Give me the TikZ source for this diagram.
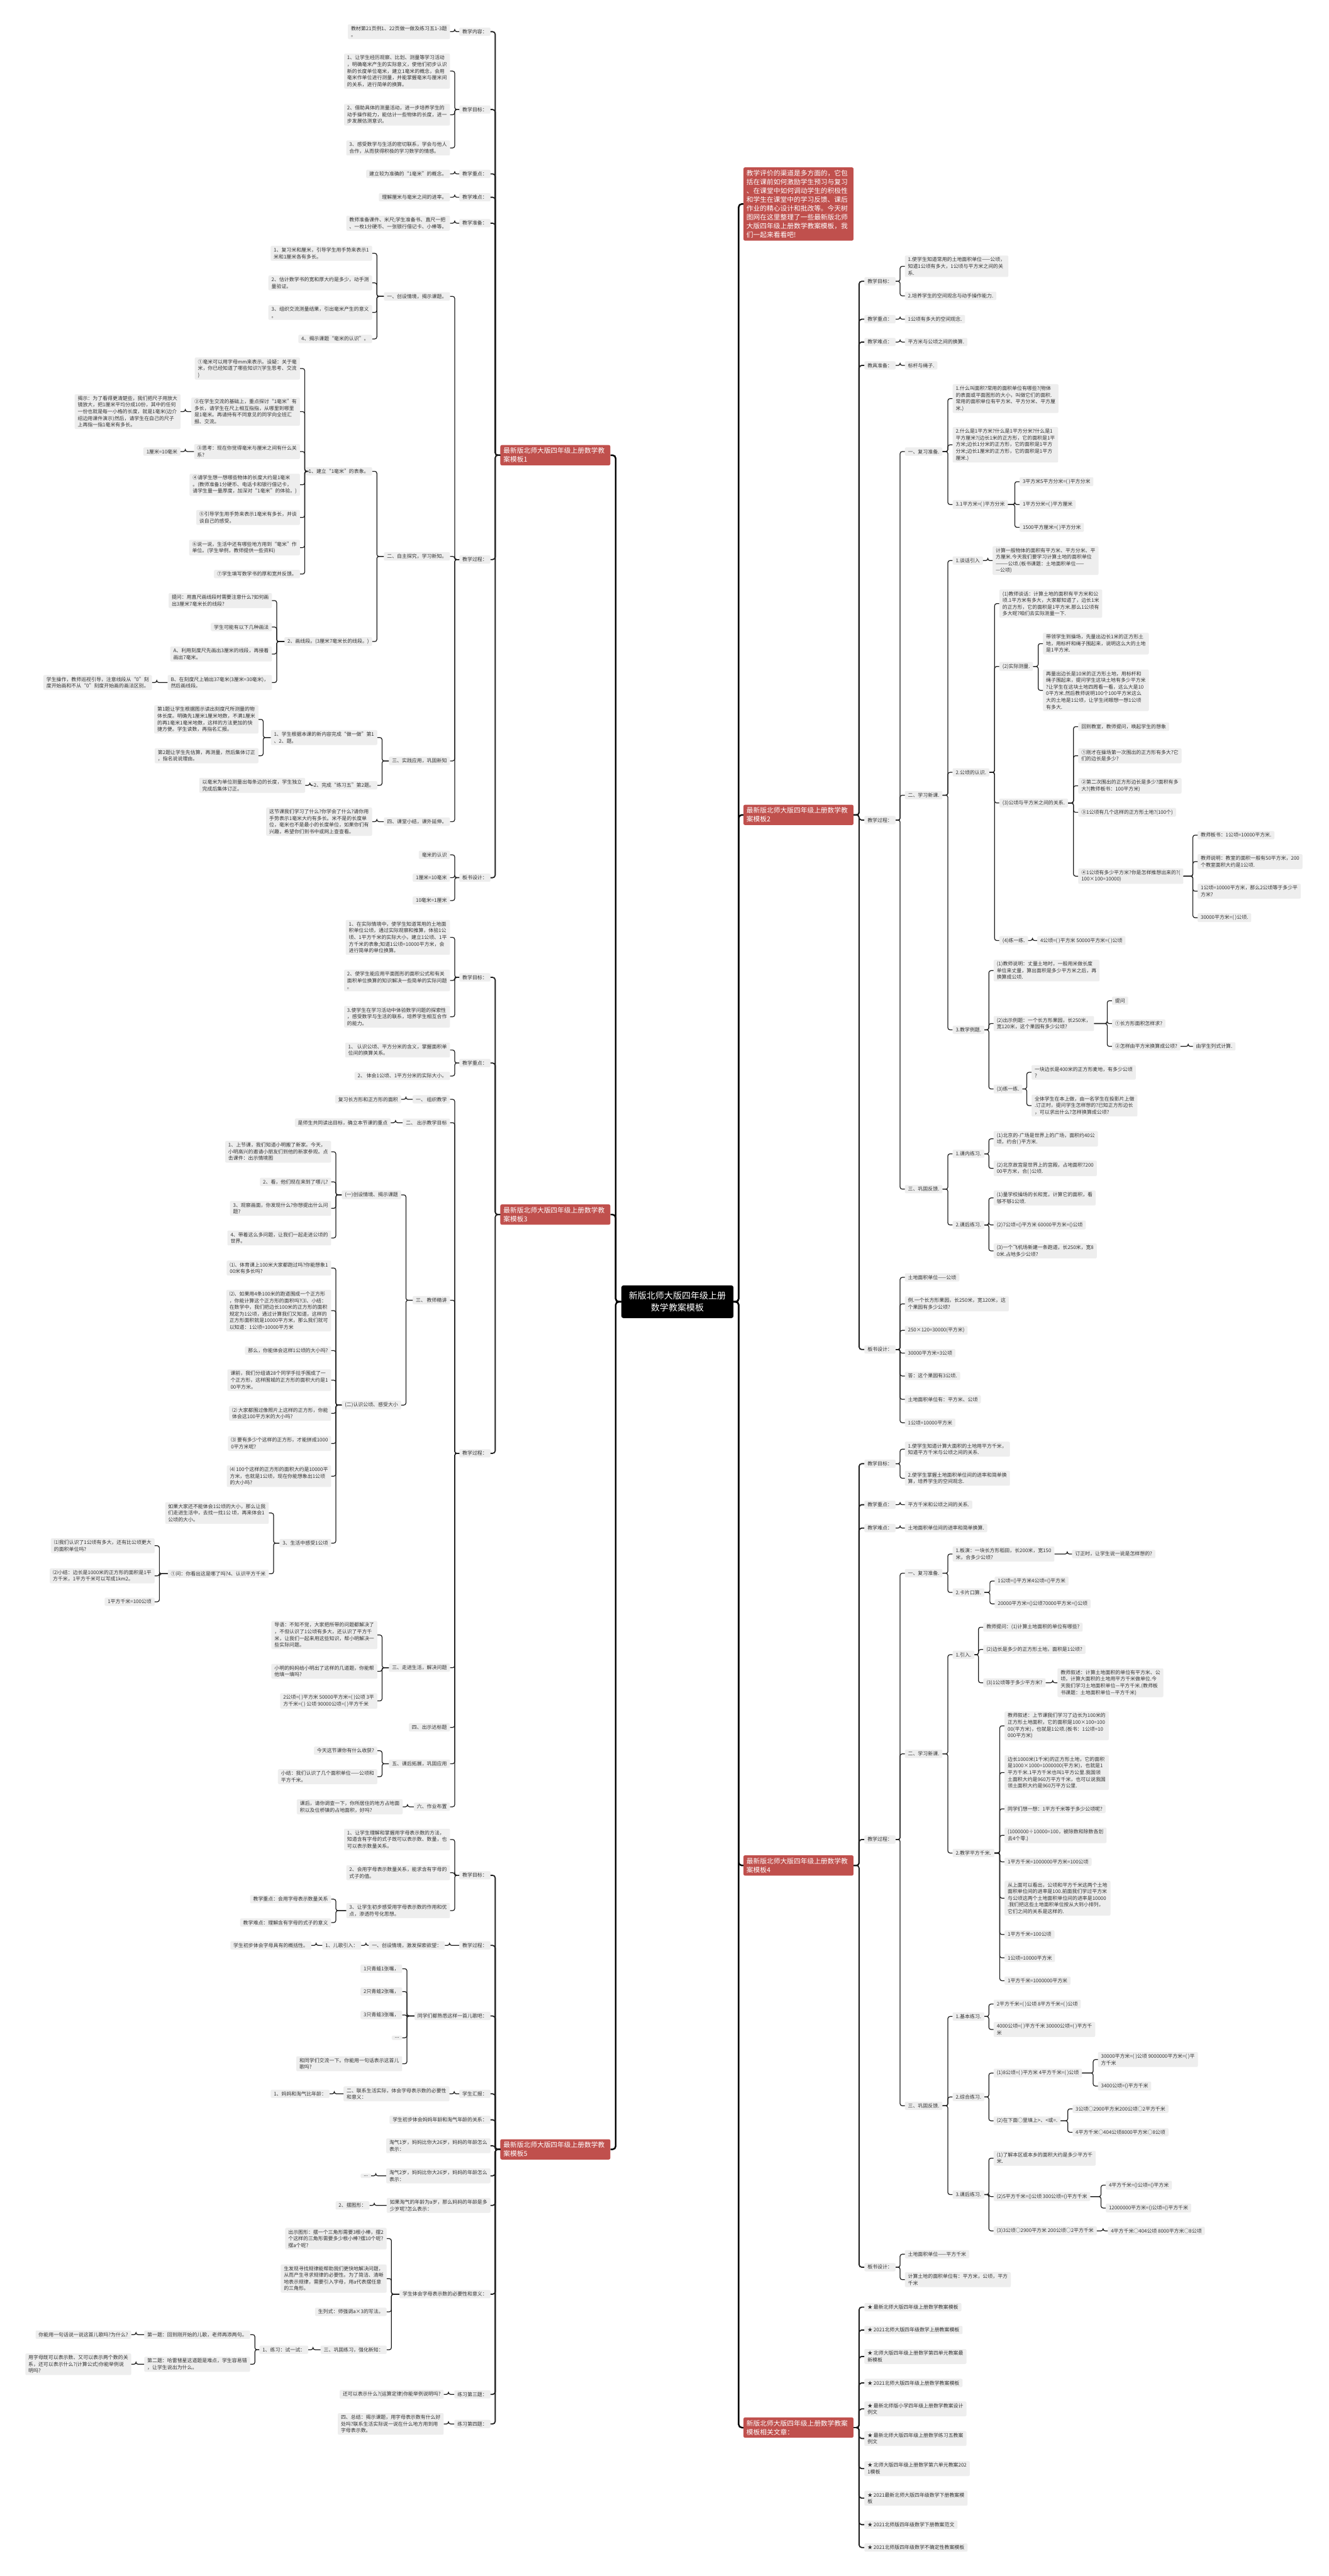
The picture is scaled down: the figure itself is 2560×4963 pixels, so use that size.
\documentclass[tikz,border=0pt]{standalone}
\usepackage{fontspec}
\setmainfont{Noto Sans CJK SC}
\definecolor{boxg}{RGB}{238,238,238}
\definecolor{txt}{RGB}{51,51,51}
\definecolor{redc}{RGB}{192,80,77}
\definecolor{lc}{RGB}{30,30,30}
\tikzset{
 t/.style={fill=boxg, rounded corners=2.5pt, inner xsep=6pt, inner ysep=3.5pt, align=left, font=\fontsize{9.6}{12.8}\selectfont, text=txt},
 L/.style={t, anchor=east}, R/.style={t, anchor=west},
 redbox/.style={fill=redc, text=white, rounded corners=3pt, inner xsep=6pt, inner ysep=5pt, align=left, font=\fontsize{13}{17}\selectfont},
 ln/.style={draw=lc, line width=1.5pt, rounded corners=4pt},
 lnb/.style={draw=lc, line width=2.2pt, rounded corners=5pt},
 lnm/.style={draw=black, line width=3pt, rounded corners=6pt},
}
\newcommand\NL[4]{\node[L] (#1) at (#2,#3) {#4};}
\newcommand\NR[4]{\node[R] (#1) at (#2,#3) {#4};}
\newcommand\CL[2]{\foreach \q in {#2}{\draw[ln] (#1.west) -| ([xshift=9pt]\q.east) -- (\q.east);}}
\newcommand\CR[2]{\foreach \q in {#2}{\draw[ln] (#1.east) -| ([xshift=-9pt]\q.west) -- (\q.west);}}
\newcommand\BL[2]{\foreach \q in {#2}{\draw[lnb] (#1.west) -| ([xshift=9pt]\q.east) -- (\q.east);}}
\newcommand\BR[2]{\foreach \q in {#2}{\draw[lnb] (#1.east) -| ([xshift=-10pt]\q.west) -- (\q.west);}}
\begin{document}
\begin{tikzpicture}[x=1pt,y=-1pt]
\fill[white] (0,0) rectangle (2560,4963);
\useasboundingbox (0,0) rectangle (2560,4963);
% ---------- center ----------
\node[fill=black, text=white, rounded corners=4pt, align=center, font=\fontsize{17}{23}\selectfont, minimum width=216pt, minimum height=63pt] (c) at (1305,2508) {新版北师大版四年级上册\\数学教案模板};
% ---------- red nodes ----------
\node[redbox, anchor=east, text width=200pt] (r1) at (1176,877) {最新版北师大版四年级上册数学教\\案模板1};
\node[redbox, anchor=east, text width=200pt] (r3) at (1176,2340) {最新版北师大版四年级上册数学教\\案模板3};
\node[redbox, anchor=east, text width=200pt] (r5) at (1176,4141) {最新版北师大版四年级上册数学教\\案模板5};
\node[redbox, anchor=west, text width=200pt] (r0) at (1432,393) {教学评价的渠道是多方面的，它包\\括在课前如何激励学生预习与复习\\、在课堂中如何调动学生的积极性\\和学生在课堂中的学习反馈、课后\\作业的精心设计和批改等。今天树\\图网在这里整理了一些最新版北师\\大版四年级上册数学教案模板，我\\们一起来看看吧!};
\node[redbox, anchor=west, text width=200pt] (r2) at (1432,1570) {最新版北师大版四年级上册数学教\\案模板2};
\node[redbox, anchor=west, text width=200pt] (r4) at (1432,3594) {最新版北师大版四年级上册数学教\\案模板4};
\node[redbox, anchor=west, text width=200pt] (r6) at (1432,4677) {新版北师大版四年级上册数学教案\\模板相关文章：};
\foreach \q in {r1,r3,r5}{\draw[lnm] (c.west) -| ([xshift=10pt]\q.east) -- (\q.east);}
\foreach \q in {r0,r2,r4,r6}{\draw[lnm] (c.east) -| ([xshift=-9pt]\q.west) -- (\q.west);}
% ================= LEFT: template 1 =================
\NL{a1}{945}{61}{教学内容：}
\NL{a2}{945}{211}{教学目标：}
\NL{a3}{945}{335}{教学重点：}
\NL{a4}{945}{380}{教学难点：}
\NL{a5}{945}{430}{教学准备：}
\NL{a6}{945}{1078}{教学过程：}
\NL{a7}{945}{1691}{板书设计：}
\BL{r1}{a1,a2,a3,a4,a5,a6,a7}
\NL{a1x}{867}{61}{教材第21页例1、22页做一做及练习五1-3题\\。}
\NL{a2a}{867}{137}{1、让学生经历观察、比划、测量等学习活动\\，明确毫米产生的实际意义，使他们初步认识\\新的长度单位毫米，建立1毫米的概念，会用\\毫米作单位进行测量，并能掌握毫米与厘米间\\的关系，进行简单的换算。}
\NL{a2b}{867}{221}{2、借助具体的测量活动，进一步培养学生的\\动手操作能力，能估计一些物体的长度，进一\\步发展估测意识。}
\NL{a2c}{867}{285}{3、感受数学与生活的密切联系，学会与他人\\合作，从而获得积极的学习数学的情感。}
\NL{a3x}{867}{335}{建立较为准确的“1毫米”的概念。}
\NL{a4x}{867}{380}{理解厘米与毫米之间的进率。}
\NL{a5x}{867}{430}{教师准备课件、米尺;学生准备书、直尺一把\\、一枚1分硬币、一张银行借记卡、小棒等。}
\NL{a6a}{867}{571}{一、创设情境，揭示课题。}
\NL{a6b}{867}{1072}{二、自主探究，学习新知。}
\NL{a6c}{867}{1466}{三、实践应用，巩固新知}
\NL{a6d}{867}{1583}{四、课堂小结，课外延伸。}
\NL{a7a}{867}{1647}{毫米的认识}
\NL{a7b}{867}{1691}{1厘米=10毫米}
\NL{a7c}{867}{1735}{10毫米=1厘米}
\CL{a1}{a1x}\CL{a2}{a2a,a2b,a2c}\CL{a3}{a3x}\CL{a4}{a4x}\CL{a5}{a5x}
\CL{a6}{a6a,a6b,a6c,a6d}\CL{a7}{a7a,a7b,a7c}
\NL{a6a1}{717}{488}{1、复习米和厘米，引导学生用手势来表示1\\米和1厘米各有多长。}
\NL{a6a2}{717}{545}{2、估计数学书的宽和厚大约是多少，动手测\\量验证。}
\NL{a6a3}{717}{602}{3、组织交流测量结果，引出毫米产生的意义\\。}
\NL{a6a4}{717}{653}{4、揭示课题“毫米的认识”。}
\CL{a6a}{a6a1,a6a2,a6a3,a6a4}
\NL{b0}{717}{908}{1、建立“1毫米”的表象。}
\NL{c0}{717}{1236}{2、画线段。(3厘米7毫米长的线段。)}
\CL{a6b}{b0,c0}
\NL{b1}{578}{710}{①毫米可以用字母mm来表示。设疑：关于毫\\米，你已经知道了哪些知识?(学生思考、交流\\)}
\NL{b2}{578}{793}{②在学生交流的基础上，重点探讨“1毫米”有\\多长，请学生在尺上相互指指，从哪里到哪里\\是1毫米。再请持有不同意见的同学向全班汇\\报、交流。}
\NL{b3}{578}{870}{③思考：现在你觉得毫米与厘米之间有什么关\\系?}
\NL{b4}{578}{934}{④请学生想一想哪些物体的长度大约是1毫米\\。(教师准备1分硬币、电话卡和银行借记卡，\\请学生量一量厚度，加深对“1毫米”的体验。)}
\NL{b5}{578}{997}{⑤引导学生用手势来表示1毫米有多长，并谈\\谈自己的感受。}
\NL{b6}{578}{1055}{⑥说一说，生活中还有哪些地方用到“毫米”作\\单位。(学生举例，教师提供一些资料)}
\NL{b7}{578}{1106}{⑦学生填写数学书的厚和宽并反馈。}
\CL{b0}{b1,b2,b3,b4,b5,b6,b7}
\NL{b2x}{348}{793}{揭示：为了看得更清楚些，我们把尺子用放大\\镜放大，把1厘米平均分成10份，其中的任何\\一份也就是每一小格的长度，就是1毫米(边介\\绍边用课件演示)然后，请学生在自己的尺子\\上再指一指1毫米有多长。}
\NL{b3x}{348}{870}{1厘米=10毫米}
\CL{b2}{b2x}\CL{b3}{b3x}
\NL{c1}{524}{1157}{提问：用直尺画线段时需要注意什么?如何画\\出3厘米7毫米长的线段?}
\NL{c2}{524}{1208}{学生可能有以下几种画法}
\NL{c3}{524}{1260}{A、利用刻度尺先画出3厘米的线段，再接着\\画出7毫米。}
\NL{c4}{524}{1315}{B、在刻度尺上输出37毫米(3厘米=30毫米)，\\然后画线段。}
\CL{c0}{c1,c2,c3,c4}
\NL{c4x}{293}{1315}{学生操作，教师巡视引导，注意线段从“0”刻\\度开始画和不从“0”刻度开始画的画法区别。}
\CL{c4}{c4x}
\NL{a6c1}{727}{1421}{1、学生根据本课的新内容完成“做一做”第1\\、2、题。}
\NL{a6c2}{727}{1513}{2、完成“练习五”第2题。}
\CL{a6c}{a6c1,a6c2}
\NL{a6c1a}{498}{1386}{第1题让学生根据图示读出刻度尺所测量的物\\体长度。明确先1厘米1厘米地数，不满1厘米\\的再1毫米1毫米地数，这样的方法更加的快\\捷方便。学生读数，再指名汇报。}
\NL{a6c1b}{498}{1456}{第2题让学生先估算，再测量，然后集体订正\\，指名说说理由。}
\CL{a6c1}{a6c1a,a6c1b}
\NL{a6c2x}{588}{1513}{以毫米为单位测量出每条边的长度，学生独立\\完成后集体订正。}
\CL{a6c2}{a6c2x}
\NL{a6d1}{717}{1583}{这节课我们学习了什么?你学会了什么?请你用\\手势表示1毫米大约有多长。米不是的长度单\\位，毫米也不是最小的长度单位，如果你们有\\兴趣，希望你们到书中或网上查查看。}
\CL{a6d}{a6d1}
% ================= LEFT: template 3 =================
\NL{d1}{945}{1883}{教学目标：}
\NL{d2}{945}{2048}{教学重点：}
\NL{d3}{945}{2800}{教学过程：}
\BL{r3}{d1,d2,d3}
\NL{d1a}{867}{1806}{1、在实际情境中，使学生知道常用的土地面\\积单位公顷，通过实际观察和推算，体验1公\\顷、1平方千米的实际大小，建立1公顷、1平\\方千米的表象;知道1公顷=10000平方米，会\\进行简单的单位换算。}
\NL{d1b}{867}{1889}{2、使学生能应用平面图形的面积公式和有关\\面积单位换算的知识解决一些简单的实际问题\\。}
\NL{d1c}{867}{1959}{3.使学生在学习活动中体验数学问题的探索性\\，感受数学与生活的联系，培养学生相互合作\\的能力。}
\CL{d1}{d1a,d1b,d1c}
\NL{d2a}{867}{2023}{1、 认识公顷、平方分米的含义，掌握面积单\\位间的换算关系。}
\NL{d2b}{867}{2073}{2、 体会1公顷、1平方分米的实际大小。}
\CL{d2}{d2a,d2b}
\NL{d3a}{867}{2118}{一、 组织教学}
\NL{d3b}{867}{2163}{二、 出示教学目标}
\NL{d3c}{867}{2505}{三、 教师精讲}
\NL{d3d}{867}{3213}{三、走进生活，解决问题}
\NL{d3e}{867}{3328}{四、出示达标题}
\NL{d3f}{867}{3398}{五、课后拓展，巩固应用}
\NL{d3g}{867}{3481}{六、作业布置}
\CL{d3}{d3a,d3b,d3c,d3d,d3e,d3f,d3g}
\NL{d3ax}{773}{2118}{复习长方形和正方形的面积}
\NL{d3bx}{753}{2163}{是师生共同读出目标，确立本节课的重点}
\CL{d3a}{d3ax}\CL{d3b}{d3bx}
\NL{e1}{773}{2302}{(一)创设情境、揭示课题}
\NL{e2}{773}{2707}{(二)认识公顷、感受大小}
\CL{d3c}{e1,e2}
\NL{e11}{638}{2219}{1、上节课，我们知道小明搬了新家。今天，\\小明高兴的邀请小朋友们到他的新家参观。点\\击课件：出示情境图}
\NL{e12}{638}{2277}{2、看，他们现在来到了哪儿?}
\NL{e13}{638}{2328}{3、观察画面，你发现什么?你想提出什么问\\题?}
\NL{e14}{638}{2385}{4、带着这么多问题，让我们一起走进公顷的\\世界。}
\CL{e1}{e11,e12,e13,e14}
\NL{e21}{638}{2443}{⑴、体育课上100米大家都跑过吗?你能想象1\\00米有多长吗?}
\NL{e22}{638}{2525}{⑵、如果用4条100米的跑道围成一个正方形\\，你能计算这个正方形的面积吗?⑶、小结：\\在数学中，我们把边长100米的正方形的面积\\规定为1公顷，通过计算我们又知道，这样的\\正方形面积就是10000平方米，那么我们就可\\以知道：1公顷=10000平方米}
\NL{e23}{638}{2602}{那么，你能体会这样1公顷的大小吗?}
\NL{e24}{638}{2659}{课前，我们分组请28个同学手拉手围成了一\\个正方形，这样围城的正方形的面积大约是1\\00平方米。}
\NL{e25}{638}{2723}{⑵ 大家都围过像照片上这样的正方形，你能\\体会这100平方米的大小吗?}
\NL{e26}{638}{2781}{⑶ 要有多少个这样的正方形，才能拼成1000\\0平方米呢?}
\NL{e27}{638}{2844}{⑷ 100个这样的正方形的面积大约是10000平\\方米，也就是1公顷，现在你能想象出1公顷\\的大小吗?}
\NL{f0}{638}{2973}{3、生活中感受1公顷}
\CL{e2}{e21,e22,e23,e24,e25,e26,e27,f0}
\NL{f1}{518}{2915}{如果大家还不能体会1公顷的大小，那么让我\\们走进生活中，去找一找1公 顷，再来体会1\\公顷的大小。}
\NL{f2}{518}{3032}{①问：你看出这是哪了吗?4、认识平方千米}
\CL{f0}{f1,f2}
\NL{f21}{298}{2978}{⑴我们认识了1公顷有多大，还有比公顷更大\\的面积单位吗?}
\NL{f22}{298}{3036}{⑵小结：边长是1000米的正方形的面积是1平\\方千米，1平方千米可以写成1km2。}
\NL{f23}{298}{3086}{1平方千米=100公顷}
\CL{f2}{f21,f22,f23}
\NL{d3d1}{727}{3150}{导语：不知不觉，大家把所带的问题都解决了\\，不但认识了1公顷有多大，还认识了平方千\\米，让我们一起来用这些知识，帮小明解决一\\些实际问题。}
\NL{d3d2}{727}{3220}{小明的妈妈给小明出了这样的几道题，你能帮\\他填一填吗?}
\NL{d3d3}{727}{3277}{2公顷=( )平方米 50000平方米=( )公顷 3平\\方千米=( ) 公顷 90000公顷=( )平方千米}
\CL{d3d}{d3d1,d3d2,d3d3}
\NL{d3f1}{727}{3373}{今天这节课你有什么收获?}
\NL{d3f2}{727}{3423}{小结：我们认识了几个面积单位——公顷和\\平方千米。}
\CL{d3f}{d3f1,d3f2}
\NL{d3g1}{776}{3481}{课后，请你调查一下，你所居住的地方占地面\\积以及位桥镇的占地面积，好吗?}
\CL{d3g}{d3g1}
% ================= LEFT: template 5 =================
\NL{g1}{945}{3613}{教学目标：}
\NL{g2}{945}{3748}{教学过程：}
\NL{g3}{945}{3884}{同学们都熟悉这样一首儿歌吧：}
\NL{g4}{945}{4034}{学生汇报：}
\NL{g5}{945}{4084}{学生初步体会妈妈年龄和淘气年龄的关系：}
\NL{g6}{945}{4134}{淘气1岁，妈妈比你大26岁，妈妈的年龄怎么\\表示：}
\NL{g7}{945}{4192}{淘气2岁，妈妈比你大26岁，妈妈的年龄怎么\\表示：}
\NL{g8}{945}{4249}{如果淘气的年龄为a岁，那么妈妈的年龄是多\\少岁呢?怎么表示：}
\NL{g9}{945}{4420}{学生体会字母表示数的必要性和意义：}
\NL{g10}{945}{4613}{练习第三题：}
\NL{g11}{945}{4670}{练习第四题：}
\BL{r5}{g1,g2,g3,g4,g5,g6,g7,g8,g9,g10,g11}
\NL{g1a}{867}{3544}{1、让学生理解和掌握用字母表示数的方法，\\知道含有字母的式子既可以表示数、数量，也\\可以表示数量关系。}
\NL{g1b}{867}{3608}{2、会用字母表示数量关系，能求含有字母的\\式子的值。}
\NL{g1c}{867}{3681}{3、让学生初步感受用字母表示数的作用和优\\点，渗透符号化思想。}
\CL{g1}{g1a,g1b,g1c}
\NL{g1c1}{638}{3659}{教学重点：会用字母表示数量关系}
\NL{g1c2}{638}{3704}{教学难点：理解含有字母的式子的意义}
\CL{g1c}{g1c1,g1c2}
\NL{g2a}{857}{3748}{一、创设情境，激发探索欲望：}
\NL{g2b}{696}{3748}{1、儿歌引入：}
\NL{g2c}{600}{3748}{学生初步体会字母具有的概括性。}
\CL{g2}{g2a}\CL{g2a}{g2b}\CL{g2b}{g2c}
\NL{g31}{775}{3793}{1只青蛙1张嘴，}
\NL{g32}{775}{3837}{2只青蛙2张嘴，}
\NL{g33}{775}{3882}{3只青蛙3张嘴，}
\NL{g34}{775}{3926}{...}
\NL{g35}{775}{3976}{和同学们交流一下。你能用一句话表示这首儿\\歌吗?}
\CL{g3}{g31,g32,g33,g34,g35}
\NL{g4a}{866}{4034}{二、联系生活实际，体会字母表示数的必要性\\和意义：}
\NL{g4b}{635}{4034}{1、妈妈和淘气比年龄：}
\CL{g4}{g4a}\CL{g4a}{g4b}
\NL{g7a}{715}{4192}{...}
\CL{g7}{g7a}
\NL{g8a}{712}{4249}{2、摆图形：}
\CL{g8}{g8a}
\NL{g91}{745}{4313}{出示图形：摆一个三角形需要3根小棒，摆2\\个这样的三角形需要多少根小棒?摆10个呢?\\摆a个呢?}
\NL{g92}{745}{4390}{生发现寻找规律能帮助我们更快地解决问题，\\从而产生寻求规律的必要性。为了简洁、清晰\\地表示规律，需要引入字母，用a代表摆任意\\的三角形。}
\NL{g93}{745}{4454}{生列式：师强调a×3的写法。}
\NL{g94}{745}{4527}{三、巩固练习，强化新知：}
\CL{g9}{g91,g92,g93,g94}
\NL{i1}{594}{4527}{1、练习：试一试：}
\CL{g94}{i1}
\NL{j1}{482}{4498}{第一题：回到刚开始的儿歌，老师再添两句。}
\NL{j2}{482}{4555}{第二题：哈雷彗星这道题是难点，学生容易错\\，让学生说出为什么。}
\CL{i1}{j1,j2}
\NL{j1x}{253}{4498}{你能用一句话说一说这首儿歌吗?为什么?}
\NL{j2x}{253}{4555}{用字母既可以表示数、又可以表示两个数的关\\系，还可以表示什么?(计算公式)你能举例说\\明吗?}
\CL{j1}{j1x}\CL{j2}{j2x}
\NL{g10a}{855}{4613}{还可以表示什么?(运算定律)你能举例说明吗?}
\NL{g11a}{855}{4670}{四、总结：揭示课题，用字母表示数有什么好\\处吗?联系生活实际说一说在什么地方用到用\\字母表示数。}
\CL{g10}{g10a}\CL{g11}{g11a}
% ================= RIGHT: template 2 =================
\NR{k1}{1665}{542}{教学目标：}
\NR{k2}{1665}{615}{教学重点：}
\NR{k3}{1665}{659}{教学难点：}
\NR{k4}{1665}{704}{教具准备：}
\NR{k5}{1665}{1580}{教学过程：}
\NR{k6}{1665}{2600}{板书设计：}
\BR{r2}{k1,k2,k3,k4,k5,k6}
\NR{k1a}{1743}{513}{1.使学生知道常用的土地面积单位——公顷，\\知道1公顷有多大，1公顷与平方米之间的关\\系.}
\NR{k1b}{1743}{570}{2.培养学生的空间观念与动手操作能力.}
\NR{k2a}{1743}{615}{1公顷有多大的空间观念.}
\NR{k3a}{1743}{659}{平方米与公顷之间的换算.}
\NR{k4a}{1743}{704}{标杆与绳子.}
\CR{k1}{k1a,k1b}\CR{k2}{k2a}\CR{k3}{k3a}\CR{k4}{k4a}
\NR{k5a}{1743}{870}{一、复习准备.}
\NR{k5b}{1743}{1532}{二、学习新课.}
\NR{k5c}{1743}{2291}{三、巩固反馈.}
\CR{k5}{k5a,k5b,k5c}
\NR{m1}{1835}{768}{1.什么叫面积?常用的面积单位有哪些?(物体\\的表面或平面图形的大小，叫做它们的面积.\\常用的面积单位有平方米、平方分米、平方厘\\米.)}
\NR{m2}{1835}{857}{2.什么是1平方米?什么是1平方分米?什么是1\\平方厘米?(边长1米的正方形，它的面积是1平\\方米;边长1分米的正方形，它的面积是1平方\\分米;边长1厘米的正方形，它的面积是1平方\\厘米.)}
\NR{m3}{1835}{972}{3.1平方米=( )平方分米}
\CR{k5a}{m1,m2,m3}
\NR{m31}{1964}{928}{3平方米5平方分米=( )平方分米}
\NR{m32}{1964}{972}{1平方分米=( )平方厘米}
\NR{m33}{1964}{1016}{1500平方厘米=( )平方分米}
\CR{m3}{m31,m32,m33}
\NR{n1}{1835}{1080}{1.谈话引入}
\NR{n2}{1835}{1488}{2.公顷的认识.}
\NR{n3}{1835}{1984}{3.教学例题.}
\CR{k5b}{n1,n2,n3}
\NR{n1x}{1912}{1080}{计算一般物体的面积有平方米、平方分米、平\\方厘米.今天我们要学习计算土地的面积单位\\———公顷.(板书课题：土地面积单位——\\—公顷)}
\CR{n1}{n1x}
\NR{p1}{1925}{1163}{(1)教师谈话：计算土地的面积有平方米和公\\顷.1平方米有多大，大家都知道了，边长1米\\的正方形，它的面积是1平方米.那么1公顷有\\多大呢?咱们去实际测量一下.}
\NR{p2}{1925}{1284}{(2)实际测量.}
\NR{p3}{1925}{1547}{(3)公顷与平方米之间的关系.}
\NR{p4}{1925}{1812}{(4)练一练.}
\CR{n2}{p1,p2,p3,p4}
\NR{p21}{2009}{1240}{带领学生到操场，先量出边长1米的正方形土\\地，用标杆和绳子围起来，说明这么大的土地\\是1平方米.}
\NR{p22}{2009}{1330}{再量出边长是10米的正方形土地，用标杆和\\绳子围起来，提问学生这块土地有多少平方米\\?让学生在这块土地四周看一看，这么大是10\\0平方米.然后教师说明100个100平方米这么\\大的土地是1公顷，让学生闭眼想一想1公顷\\有多大.}
\CR{p2}{p21,p22}
\NR{p31}{2077}{1400}{回到教室，教师提问，唤起学生的想象}
\NR{p32}{2077}{1456}{①刚才在操场第一次围出的正方形有多大?它\\们的边长是多少?}
\NR{p33}{2077}{1514}{②第二次围出的正方形边长是多少?面积有多\\大?(教师板书：100平方米)}
\NR{p34}{2077}{1565}{③1公顷有几个这样的正方形土地?(100个)}
\NR{p35}{2077}{1688}{④1公顷有多少平方米?你是怎样推想出来的?(\\100×100=10000)}
\CR{p3}{p31,p32,p33,p34,p35}
\NR{q1}{2307}{1609}{教师板书：1公顷=10000平方米.}
\NR{q2}{2307}{1660}{教师说明：教室的面积一般有50平方米，200\\个教室面积大约是1公顷.}
\NR{q3}{2307}{1717}{1公顷=10000平方米，那么2公顷等于多少平\\方米?}
\NR{q4}{2307}{1768}{30000平方米=( )公顷.}
\CR{p35}{q1,q2,q3,q4}
\NR{p4x}{1998}{1812}{4公顷=( )平方米 50000平方米=( )公顷}
\CR{p4}{p4x}
\NR{s1}{1914}{1870}{(1)教师说明：丈量土地时，一般用米做长度\\单位来丈量，算出面积是多少平方米之后，再\\换算成公顷.}
\NR{s2}{1914}{1972}{(2)出示例题：一个长方形果园，长250米，\\宽120米，这个果园有多少公顷?}
\NR{s3}{1914}{2098}{(3)练一练.}
\CR{n3}{s1,s2,s3}
\NR{s21}{2142}{1928}{提问}
\NR{s22}{2142}{1972}{①长方形面积怎样求?}
\NR{s23}{2142}{2016}{②怎样由平方米换算成公顷?}
\CR{s2}{s21,s22,s23}
\NR{s23x}{2298}{2016}{由学生列式计算.}
\CR{s23}{s23x}
\NR{s31}{1987}{2066}{一块边长是400米的正方形麦地，有多少公顷\\?}
\NR{s32}{1987}{2130}{全体学生在本上做，由一名学生在投影片上做\\.订正时，提问学生怎样想的?已知正方形边长\\，可以求出什么?怎样换算成公顷?}
\CR{s3}{s31,s32}
\NR{u1}{1835}{2223}{1.课内练习.}
\NR{u2}{1835}{2360}{2.课后练习.}
\CR{k5c}{u1,u2}
\NR{u11}{1914}{2194}{(1)北京的-广场是世界上的广场，面积约40公\\顷，约合( )平方米.}
\NR{u12}{1914}{2251}{(2)北京故宫是世界上的宫殿，占地面积7200\\00平方米，合( )公顷.}
\CR{u1}{u11,u12}
\NR{u21}{1914}{2308}{(1)量学校操场的长和宽，计算它的面积，看\\够不够1公顷.}
\NR{u22}{1914}{2360}{(2)7公顷=()平方米 60000平方米=()公顷}
\NR{u23}{1914}{2410}{(3)一个飞机场新建一条跑道，长250米，宽8\\0米.占地多少公顷?}
\CR{u2}{u21,u22,u23}
\NR{k6a}{1743}{2461}{土地面积单位——公顷}
\NR{k6b}{1743}{2512}{例.一个长方形果园，长250米，宽120米，这\\个果园有多少公顷?}
\NR{k6c}{1743}{2563}{250×120=30000(平方米)}
\NR{k6d}{1743}{2607}{30000平方米=3公顷}
\NR{k6e}{1743}{2651}{答：这个果园有3公顷.}
\NR{k6f}{1743}{2696}{土地面积单位有：平方米、公顷}
\NR{k6g}{1743}{2741}{1公顷=10000平方米}
\CR{k6}{k6a,k6b,k6c,k6d,k6e,k6f,k6g}
% ================= RIGHT: template 4 =================
\NR{v1}{1665}{2820}{教学目标：}
\NR{v2}{1665}{2899}{教学重点：}
\NR{v3}{1665}{2944}{教学难点：}
\NR{v4}{1665}{3544}{教学过程：}
\NR{v5}{1665}{4368}{板书设计：}
\BR{r4}{v1,v2,v3,v4,v5}
\NR{v1a}{1743}{2792}{1.使学生知道计算大面积的土地用平方千米，\\知道平方千米与公顷之间的关系.}
\NR{v1b}{1743}{2848}{2.使学生掌握土地面积单位间的进率和简单换\\算，培养学生的空间观念.}
\NR{v2a}{1743}{2899}{平方千米和公顷之间的关系.}
\NR{v3a}{1743}{2944}{土地面积单位间的进率和简单换算.}
\CR{v1}{v1a,v1b}\CR{v2}{v2a}\CR{v3}{v3a}
\NR{w1}{1743}{3031}{一、复习准备.}
\NR{w2}{1743}{3379}{二、学习新课.}
\NR{w3}{1743}{4057}{三、巩固反馈.}
\CR{v4}{w1,w2,w3}
\NR{w11}{1835}{2994}{1.板演：一块长方形稻田，长200米，宽150\\米，合多少公顷?}
\NR{w12}{1835}{3068}{2.卡片口算.}
\CR{w1}{w11,w12}
\NR{w11x}{2065}{2994}{订正时，让学生说一说是怎样想的?}
\CR{w11}{w11x}
\NR{w121}{1916}{3046}{1公顷=()平方米4公顷=()平方米}
\NR{w122}{1916}{3090}{20000平方米=()公顷70000平方米=()公顷}
\CR{w12}{w121,w122}
\NR{x1}{1835}{3188}{1.引入.}
\NR{x2}{1835}{3570}{2.教学平方千米.}
\CR{w2}{x1,x2}
\NR{x11}{1894}{3135}{教师提问：(1)计算土地面积的单位有哪些?}
\NR{x12}{1894}{3178}{(2)边长是多少的正方形土地，面积是1公顷?}
\NR{x13}{1894}{3242}{(3)1公顷等于多少平方米?}
\CR{x1}{x11,x12,x13}
\NR{x13x}{2037}{3242}{教师叙述：计算土地面积的单位有平方米、公\\顷，计算大面积的土地用平方千米做单位.今\\天我们学习土地面积单位—平方千米.(教师板\\书课题：土地面积单位—平方千米)}
\CR{x13}{x13x}
\NR{x21}{1935}{3325}{教师叙述：上节课我们学习了边长为100米的\\正方形土地面积，它的面积是100×100=100\\00(平方米)，也就是1公顷.(板书：1公顷=10\\000平方米)}
\NR{x22}{1935}{3415}{边长1000米(1千米)的正方形土地，它的面积\\是1000×1000=1000000(平方米)，也就是1\\平方千米.1平方千米也叫1平方公里.我国领\\土面积大约是960万平方千米，也可以说我国\\领土面积大约是960万平方公里.}
\NR{x23}{1935}{3485}{同学们想一想：1平方千米等于多少公顷呢?}
\NR{x24}{1935}{3536}{(1000000÷10000=100，被除数和除数各划\\去4个零.)}
\NR{x25}{1935}{3587}{1平方千米=1000000平方米=100公顷}
\NR{x26}{1935}{3657}{从上面可以看出，公顷和平方千米这两个土地\\面积单位间的进率是100.前面我们学过平方米\\与公顷这两个土地面积单位间的进率是10000\\.我们把这些土地面积单位按从大到小排列，\\它们之间的关系是这样的.}
\NR{x27}{1935}{3727}{1平方千米=100公顷}
\NR{x28}{1935}{3772}{1公顷=10000平方米}
\NR{x29}{1935}{3816}{1平方千米=1000000平方米}
\CR{x2}{x21,x22,x23,x24,x25,x26,x27,x28,x29}
\NR{y1}{1835}{3885}{1.基本练习.}
\NR{y2}{1835}{4040}{2.综合练习.}
\NR{y3}{1835}{4228}{3.课后练习.}
\CR{w3}{y1,y2,y3}
\NR{y11}{1914}{3861}{2平方千米=( )公顷 8平方千米=( )公顷}
\NR{y12}{1914}{3910}{4000公顷=( )平方千米 30000公顷=( )平方千\\米}
\CR{y1}{y11,y12}
\NR{y21}{1914}{3994}{(1)8公顷=( )平方米 4平方千米=( )公顷}
\NR{y22}{1914}{4086}{(2)在下面○里填上>、<或=.}
\CR{y2}{y21,y22}
\NR{y211}{2115}{3968}{30000平方米=( )公顷 9000000平方米=( )平\\方千米}
\NR{y212}{2115}{4019}{3400公顷=()平方千米}
\CR{y21}{y211,y212}
\NR{y221}{2066}{4063}{3公顷○2900平方米200公顷○2平方千米}
\NR{y222}{2066}{4108}{4平方千米○404公顷8000平方米○8公顷}
\CR{y22}{y221,y222}
\NR{y31}{1914}{4158}{(1)了解本区或本乡的面积大约是多少平方千\\米.}
\NR{y32}{1914}{4232}{(2)5平方千米=()公顷 300公顷=()平方千米}
\NR{y33}{1914}{4298}{(3)3公顷○2900平方米 200公顷○2平方千米}
\CR{y3}{y31,y32,y33}
\NR{y321}{2130}{4210}{4平方千米=()公顷=()平方米}
\NR{y322}{2130}{4254}{12000000平方米=()公顷=()平方千米}
\CR{y32}{y321,y322}
\NR{y33x}{2134}{4298}{4平方千米○404公顷 8000平方米○8公顷}
\CR{y33}{y33x}
\NR{v5a}{1743}{4343}{土地面积单位——平方千米}
\NR{v5b}{1743}{4392}{计算土地的面积单位有：平方米，公顷，平方\\千米}
\CR{v5}{v5a,v5b}
% ================= RIGHT: related articles =================
\NR{z1}{1665}{4445}{★ 最新北师大版四年级上册数学教案模板}
\NR{z2}{1665}{4489}{★ 2021北师大版四年级数学上册教案模板}
\NR{z3}{1665}{4540}{★ 北师大版四年级上册数学第四单元教案最\\新模板}
\NR{z4}{1665}{4591}{★ 2021北师大版四年级上册数学教案模板}
\NR{z5}{1665}{4641}{★ 最新北师版小学四年级上册数学教案设计\\例文}
\NR{z6}{1665}{4698}{★ 最新北师大版四年级上册数学练习五教案\\例文}
\NR{z7}{1665}{4756}{★ 北师大版四年级上册数学第六单元教案202\\1模板}
\NR{z8}{1665}{4813}{★ 2021最新北师大版四年级数学下册教案模\\板}
\NR{z9}{1665}{4864}{★ 2021北师版四年级数学下册教案范文}
\NR{z10}{1665}{4908}{★ 2021北师版四年级数学不确定性教案模板}
\BR{r6}{z1,z2,z3,z4,z5,z6,z7,z8,z9,z10}
\end{tikzpicture}
\end{document}
